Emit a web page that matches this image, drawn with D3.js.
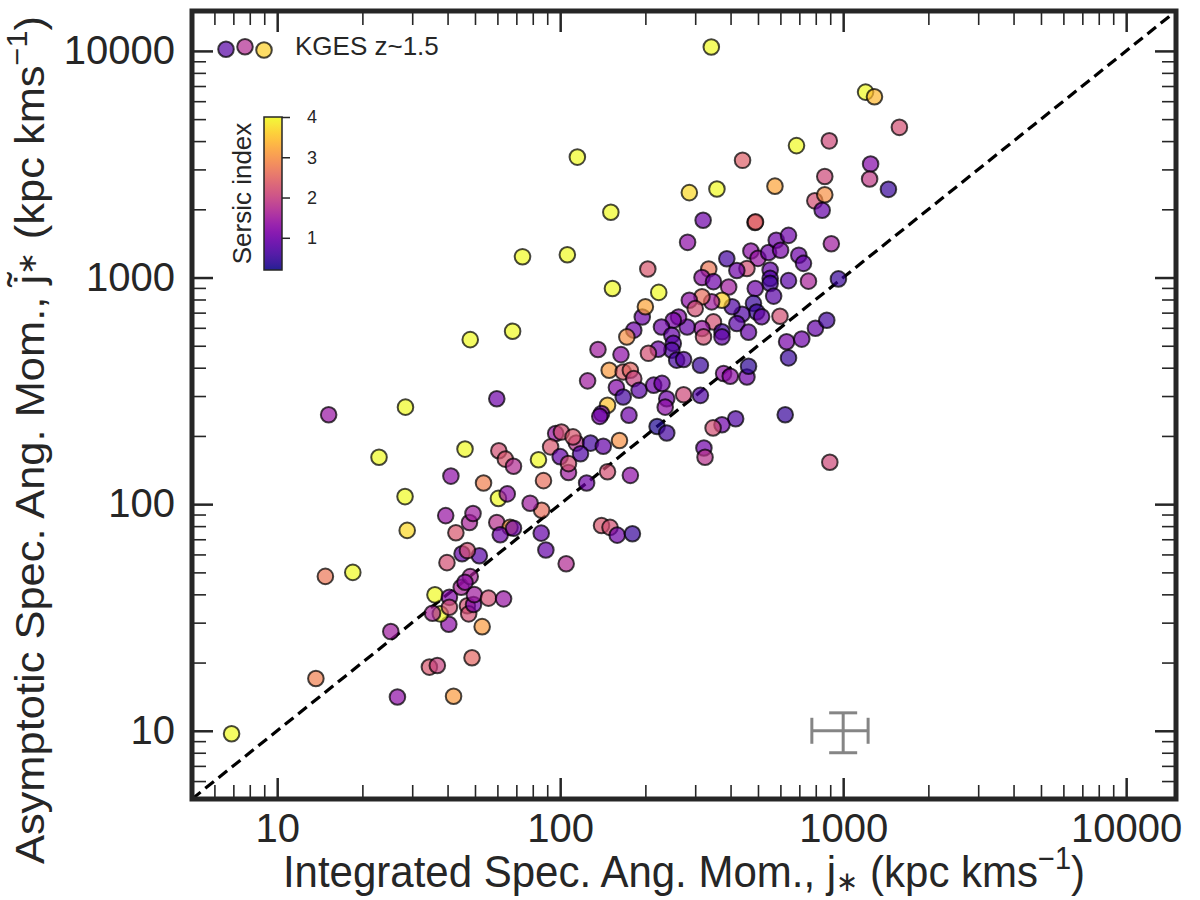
<!DOCTYPE html>
<html>
<head>
<meta charset="utf-8">
<script src="https://cdn.jsdelivr.net/npm/d3@7"></script>
<style>
  body { margin: 0; background: #fff; }
  svg { display: block; }
  text { font-family: "Liberation Sans", Arial, sans-serif; fill: #262626; }
</style>
</head>
<body>
<svg id="chart" width="1200" height="900"></svg>
<script>
// ---- data (kpc km/s) ----
const jInt = [
  6.9, 14.8, 18.5, 13.7, 26.6, 42, 34.5, 36.8, 48.8, 25.2, 53, 40.4, 37.7, 35.4, 36.1, 40.6, 40.6, 47, 47.5, 49.4,
  49.7, 55.8, 63.1, 44.7, 48.1, 46.1, 39.8, 45, 51.8, 47, 42.8, 39.4, 28.8, 47.8, 49.2, 59.7, 66.5, 61.4, 68.4, 85.7,
  89, 105, 86, 78.3, 15.2, 28.4, 22.9, 48.1, 67.9, 73.6, 106, 59.7, 46.1, 28.3, 41.1, 53.6, 60.7, 64, 68.4, 83.8,
  87.3, 96.4, 101, 92.5, 100, 107, 107, 114, 111, 60.5, 65, 115, 441, 684, 861, 286, 358, 574, 794, 861,
  843, 151, 320, 488, 490, 908, 282, 204, 153, 223, 388, 472, 500, 545, 580, 641, 601, 697, 724, 754,
  962, 641, 552, 552, 552, 457, 421, 335, 317, 348, 394, 489, 568, 598, 482, 495, 515, 439, 421, 463,
  405, 373, 343, 317, 286, 300, 348, 317, 321, 373, 373, 281, 262, 251, 228, 248, 251, 248, 258, 273,
  313, 222, 205, 195, 182, 200, 172, 136, 164, 149, 167, 177, 182, 125, 158, 167, 190, 214, 229, 238,
  235, 273, 313, 378, 399, 457, 463, 631, 714, 798, 875, 641, 624, 417, 373, 347, 322, 325, 897, 220,
  238, 147, 140, 138, 175, 128, 142, 162, 118, 147, 177, 124, 342, 1200, 1290, 1580, 893, 1250, 1240, 1445,
  140, 150, 159, 180
];
const jAsym = [
  9.7, 48, 50, 17, 14.1, 14.2, 19.1, 19.4, 21, 27.4, 28.8, 29.5, 32.8, 33, 39.8, 38.8, 35.1, 35.6, 32.8, 36.1,
  39.9, 38.5, 38.2, 43, 47.9, 45.2, 55.2, 60.4, 59.2, 62.4, 74.8, 89, 76.6, 83, 91, 83, 79, 73.3, 78.3, 74.5,
  62.8, 54.6, 94, 101, 248, 268, 161, 532, 579, 1236, 1260, 292, 175, 108, 133, 124, 172, 158, 147, 157,
  127, 205, 208, 179, 162, 138, 151, 186, 198, 106, 111, 3400, 3290, 3820, 2790, 2370, 2460, 2530, 2180, 2320,
  1980, 1940, 1790, 1750, 1760, 1410, 1430, 1090, 895, 860, 1210, 1310, 1215, 1290, 1460, 1535, 1320, 1255, 1155, 964,
  986, 969, 1080, 991, 942, 1096, 1074, 1090, 1000, 959, 908, 895, 828, 675, 769, 705, 671, 689, 627, 574,
  743, 794, 781, 822, 794, 729, 637, 596, 547, 576, 547, 605, 670, 648, 605, 556, 512, 478, 432, 435,
  410, 483, 463, 670, 586, 743, 547, 481, 457, 390, 383, 390, 358, 350, 327, 297, 318, 335, 341, 292,
  268, 304, 302, 377, 367, 364, 406, 521, 535, 597, 648, 442, 248, 238, 224, 217, 177, 161, 153, 220,
  206, 273, 251, 244, 247, 186, 180, 191, 167, 139, 134, 124, 10400, 6580, 6280, 4600, 4010, 3170, 2720, 2450,
  80.5, 79, 73, 74
];
const sersic = [
  4.0, 2.7, 4.0, 2.8, 1.3, 3.1, 2.3, 2.0, 2.5, 1.5, 3.1, 1.3, 4.0, 1.6, 4.0, 1.2, 2.2, 2.2, 2.2, 1.1,
  1.5, 2.2, 1.4, 1.6, 1.6, 1.3, 2.2, 0.9, 0.8, 2.2, 2.3, 1.4, 3.7, 1.6, 1.5, 1.8, 3.1, 1.0, 1.0, 0.9,
  0.9, 1.7, 2.6, 1.5, 1.4, 4.0, 4.0, 4.0, 4.0, 4.0, 4.0, 1.0, 4.0, 4.0, 1.3, 2.8, 2.2, 2.3, 1.7, 4.0,
  2.6, 1.4, 2.2, 2.3, 0.9, 1.5, 2.2, 1.8, 2.3, 4.0, 1.3, 4.0, 2.4, 4.0, 2.1, 3.7, 4.0, 3.2, 2.2, 3.0,
  0.9, 4.0, 1.0, 2.5, 2.4, 1.5, 1.3, 2.3, 4.0, 4.0, 0.6, 1.3, 1.4, 1.0, 1.0, 1.0, 1.1, 1.0, 0.9, 1.6,
  0.5, 0.8, 0.9, 0.7, 0.6, 2.2, 1.0, 2.7, 1.3, 1.0, 1.5, 1.0, 0.8, 2.2, 0.5, 0.5, 0.9, 0.7, 0.8, 0.9,
  0.7, 3.6, 1.5, 2.6, 1.3, 2.2, 2.2, 1.4, 2.2, 0.6, 0.9, 0.9, 1.2, 1.1, 1.0, 0.9, 0.8, 0.7, 0.6, 0.8,
  0.5, 1.0, 2.2, 1.0, 1.0, 3.2, 3.0, 1.5, 1.3, 3.1, 2.4, 2.5, 2.0, 1.5, 1.2, 0.6, 0.8, 1.0, 1.0, 1.0,
  1.3, 2.1, 0.7, 1.3, 1.3, 1.0, 0.4, 1.1, 1.0, 0.9, 0.6, 0.5, 0.5, 0.7, 1.0, 2.2, 1.0, 1.8, 2.1, 0.3,
  0.6, 3.5, 0.8, 1.1, 1.0, 0.6, 0.9, 3.0, 0.7, 2.2, 1.3, 1.0, 4.0, 4.0, 3.4, 2.2, 2.1, 1.2, 1.9, 0.5,
  2.3, 2.2, 1.0, 0.5
];

const majorTicks = [10, 100, 1000, 10000];
const cbarTicks = [1, 2, 3, 4];
const cbarRange = [0.2, 4];
const legendShades = [0.15, 0.4, 0.9];   // colormap fractions of the legend markers
const typicalErr = { x: 1000, y: 10, xerr: 225, yerr: 2 };

// ---- layout ----
const svg = d3.select("#chart");
const ink = "#262626";
const L = 192, R = 1176, T = 11, B = 799;

const x = d3.scaleLog().domain([5, 15000]).range([L, R]);
const y = d3.scaleLog().domain([5, 15000]).range([B, T]);
const color = n => d3.interpolatePlasma(Math.max(0, Math.min(1, (n - cbarRange[0]) / (cbarRange[1] - cbarRange[0]))));

svg.append("defs").append("clipPath").attr("id", "plotclip")
  .append("rect").attr("x", L).attr("y", T).attr("width", R - L).attr("height", B - T);

// minor ticks: every log tick that is not a decade
const isMajor = v => Math.abs(Math.log10(v) - Math.round(Math.log10(v))) < 1e-9;
const xMinor = x.ticks(40).filter(v => !isMajor(v));
const yMinor = y.ticks(40).filter(v => !isMajor(v));

function styleAxis(g, width) {
  g.select(".domain").remove();
  g.selectAll(".tick line").attr("stroke", ink).attr("stroke-width", width);
}

// major ticks with labels
svg.append("g").attr("transform", `translate(0,${B})`)
  .call(d3.axisBottom(x).tickValues(majorTicks).tickFormat(d3.format("d")).tickSize(-21).tickPadding(15))
  .call(g => styleAxis(g, 2.5))
  .call(g => g.selectAll("text").attr("font-size", 40).attr("fill", ink).style("font-family", "Liberation Sans, Arial, sans-serif"));
svg.append("g").attr("transform", `translate(${L},0)`)
  .call(d3.axisLeft(y).tickValues(majorTicks).tickFormat(d3.format("d")).tickSize(-21).tickPadding(17))
  .call(g => styleAxis(g, 2.5))
  .call(g => g.selectAll("text").attr("font-size", 40).attr("fill", ink).style("font-family", "Liberation Sans, Arial, sans-serif"));
svg.append("g").attr("transform", `translate(0,${T})`)
  .call(d3.axisTop(x).tickValues(majorTicks).tickFormat("").tickSize(-21))
  .call(g => styleAxis(g, 2.5));
svg.append("g").attr("transform", `translate(${R},0)`)
  .call(d3.axisRight(y).tickValues(majorTicks).tickFormat("").tickSize(-21))
  .call(g => styleAxis(g, 2.5));

// minor ticks on all four sides
[[d3.axisBottom(x), xMinor, `translate(0,${B})`],
 [d3.axisTop(x), xMinor, `translate(0,${T})`],
 [d3.axisLeft(y), yMinor, `translate(${L},0)`],
 [d3.axisRight(y), yMinor, `translate(${R},0)`]].forEach(([ax, vals, tr]) => {
  svg.append("g").attr("transform", tr)
    .call(ax.tickValues(vals).tickFormat("").tickSize(-14))
    .call(g => styleAxis(g, 1.6));
});

// --- plot content ---
const plot = svg.append("g").attr("clip-path", "url(#plotclip)");

// one-to-one line
plot.append("line")
  .attr("x1", x(5)).attr("y1", y(5)).attr("x2", x(15000)).attr("y2", y(15000))
  .attr("stroke", "#000").attr("stroke-width", 3.2).attr("stroke-dasharray", "11,6");

// points
const pts = jInt.map((v, i) => ({ x: v, y: jAsym[i], n: sersic[i] }));
plot.append("g").selectAll("circle")
  .data(pts)
  .join("circle")
  .attr("cx", d => x(d.x))
  .attr("cy", d => y(d.y))
  .attr("r", 7.8)
  .attr("fill", d => color(d.n))
  .attr("fill-opacity", 0.7)
  .attr("stroke", "#000")
  .attr("stroke-opacity", 0.72)
  .attr("stroke-width", 2);

// typical error bar
const eb = plot.append("g").attr("stroke", "#858585").attr("stroke-width", 3).attr("fill", "none");
const ex0 = x(typicalErr.x - typicalErr.xerr), ex1 = x(typicalErr.x + typicalErr.xerr);
const ey0 = y(typicalErr.y - typicalErr.yerr), ey1 = y(typicalErr.y + typicalErr.yerr);
const ecx = x(typicalErr.x), ecy = y(typicalErr.y);
eb.append("line").attr("x1", ex0).attr("x2", ex1).attr("y1", ecy).attr("y2", ecy);
eb.append("line").attr("x1", ecx).attr("x2", ecx).attr("y1", ey0).attr("y2", ey1);
eb.append("line").attr("x1", ex0).attr("x2", ex0).attr("y1", ecy - 13).attr("y2", ecy + 13);
eb.append("line").attr("x1", ex1).attr("x2", ex1).attr("y1", ecy - 13).attr("y2", ecy + 13);
eb.append("line").attr("x1", ecx - 14).attr("x2", ecx + 14).attr("y1", ey0).attr("y2", ey0);
eb.append("line").attr("x1", ecx - 14).attr("x2", ecx + 14).attr("y1", ey1).attr("y2", ey1);

// frame
svg.append("rect").attr("x", L).attr("y", T).attr("width", R - L).attr("height", B - T)
  .attr("fill", "none").attr("stroke", ink).attr("stroke-width", 5);

// --- legend ---
const legY = [49.3, 46.7, 50];
svg.append("g").selectAll("circle")
  .data(legendShades)
  .join("circle")
  .attr("cx", (d, i) => 226 + i * 19)
  .attr("cy", (d, i) => legY[i])
  .attr("r", 7.8)
  .attr("fill", d => d3.interpolatePlasma(d))
  .attr("fill-opacity", 0.7)
  .attr("stroke", "#000").attr("stroke-opacity", 0.72).attr("stroke-width", 2);
svg.append("text").attr("x", 295).attr("y", 55).attr("font-size", 26).text("KGES z~1.5");

// --- colorbar ---
const cbX = 264, cbW = 18;
const cy = d3.scaleLinear().domain(cbarRange).range([270, 117]);
const grad = svg.select("defs").append("linearGradient").attr("id", "cbgrad")
  .attr("x1", 0).attr("y1", 1).attr("x2", 0).attr("y2", 0);
d3.range(0, 1.0001, 0.05).forEach(t => {
  grad.append("stop").attr("offset", t).attr("stop-color", d3.interpolatePlasma(t));
});
svg.append("rect").attr("x", cbX).attr("y", cy(cbarRange[1])).attr("width", cbW)
  .attr("height", cy(cbarRange[0]) - cy(cbarRange[1]))
  .attr("fill", "url(#cbgrad)").attr("fill-opacity", 0.9)
  .attr("stroke", ink).attr("stroke-width", 1.5);
svg.append("g").attr("transform", `translate(${cbX + cbW},0)`)
  .call(d3.axisRight(cy).tickValues(cbarTicks).tickFormat(d3.format("d")).tickSize(8).tickPadding(17))
  .call(g => styleAxis(g, 1.5))
  .call(g => g.selectAll("text").attr("font-size", 18).attr("fill", ink).style("font-family", "Liberation Sans, Arial, sans-serif"));
svg.append("text")
  .attr("transform", `translate(251,${(cy(cbarRange[0]) + cy(cbarRange[1])) / 2}) rotate(-90)`)
  .attr("text-anchor", "middle").attr("font-size", 26).text("Sersic index");

// --- axis titles ---
const xt = svg.append("text").attr("transform", `translate(${(L + R) / 2},887) scale(1,1.06)`)
  .attr("text-anchor", "middle").attr("font-size", 42);
xt.append("tspan").text("Integrated Spec. Ang. Mom., j");
xt.append("tspan").attr("font-size", 26).attr("dy", 4).text("\u2217");
xt.append("tspan").attr("dy", -4).text("  (kpc kms");
xt.append("tspan").attr("font-size", 29).attr("dy", -17).text("\u22121");
xt.append("tspan").attr("dy", 17).text(")");

const yt = svg.append("text").attr("transform", "translate(44,440) rotate(-90) scale(1.06,1)")
  .attr("text-anchor", "middle").attr("font-size", 41);
yt.append("tspan").text("Asymptotic Spec. Ang. Mom., j\u0303");
yt.append("tspan").attr("font-size", 26).attr("dy", -8).text("\u2217");
yt.append("tspan").attr("dy", 8).text("  (kpc kms");
yt.append("tspan").attr("font-size", 29).attr("dy", -17).text("\u22121");
yt.append("tspan").attr("dy", 17).text(")");
</script>
</body>
</html>
